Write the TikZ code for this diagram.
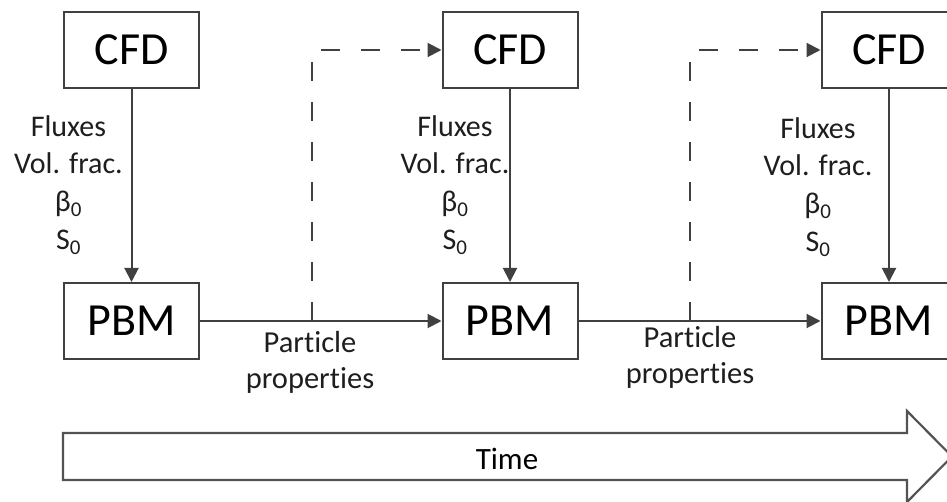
\documentclass[tikz,border=0pt]{standalone}
\usepackage{fontspec}
\setmainfont{Carlito}[Ligatures=NoCommon]
\usetikzlibrary{arrows.meta}
\definecolor{ln}{HTML}{404040}
\definecolor{tx}{HTML}{1E1E1E}
\begin{document}
\begin{tikzpicture}[x=1pt,y=-1pt,
  box/.style={draw=ln,line width=2pt,minimum width=135pt,minimum height=76pt,inner sep=0pt,
    font=\fontsize{46}{55}\selectfont,text=black},
  arr/.style={draw=ln,line width=2pt,-{Triangle[length=14pt,width=14pt]}},
  darr/.style={draw=ln,line width=2pt,dash pattern=on 19pt off 21pt,-{Triangle[length=14pt,width=14pt]}},
  lbl/.style={align=center,inner sep=0pt,anchor=north,text=tx,font=\fontsize{30}{37.7}\selectfont},
  plbl/.style={align=center,inner sep=0pt,anchor=north,text=tx,font=\fontsize{30.5}{36}\selectfont},
  tarrow/.style={draw=ln!90,line width=2.2pt,line join=miter}
]
\useasboundingbox (0,0) rectangle (947,502);

% boxes
\node[box] (cfd1) at (131.5,50) {CFD};
\node[box] (pbm1) at (131.5,321) {PBM};
\node[box] (cfd2) at (510,50) {CFD};
\node[box] (pbm2) at (510,321) {PBM};
\node[box] (cfd3) at (889,50) {CFD};
\node[box] (pbm3) at (889,321) {PBM};

% vertical connectors
\draw[arr] (cfd1) -- (pbm1);
\draw[arr] (cfd2) -- (pbm2);
\draw[arr] (cfd3) -- (pbm3);

% horizontal connectors
\draw[arr] (pbm1) -- (pbm2);
\draw[arr] (pbm2) -- (pbm3);

% dashed feedback
\coordinate (d1) at (312,321);
\coordinate (d2) at (690,321);
\draw[darr] (d1) |- (cfd2);
\draw[darr] (d2) |- (cfd3);

% labels
\node[lbl] (lab1) at (68.5,115) {Fluxes\\Vol. frac.\\β\textsubscript{0}\\S\textsubscript{0}};
\node[lbl] (lab2) at (455,115) {Fluxes\\Vol. frac.\\β\textsubscript{0}\\S\textsubscript{0}};
\node[lbl] (lab3) at (818,117) {Fluxes\\Vol. frac.\\β\textsubscript{0}\\S\textsubscript{0}};

\node[plbl] (pp1) at (310,331) {Particle\\properties};
\node[plbl] (pp2) at (690,326) {Particle\\properties};

% time arrow
\draw[tarrow] (63,433) -- (907,433) -- (907,411) -- (952,456.5) -- (907,502) -- (907,480) -- (63,480) -- cycle;
\node[text=black,font=\fontsize{31}{36}\selectfont,inner sep=0pt] (time) at (507,459) {Time};
\end{tikzpicture}
\end{document}
